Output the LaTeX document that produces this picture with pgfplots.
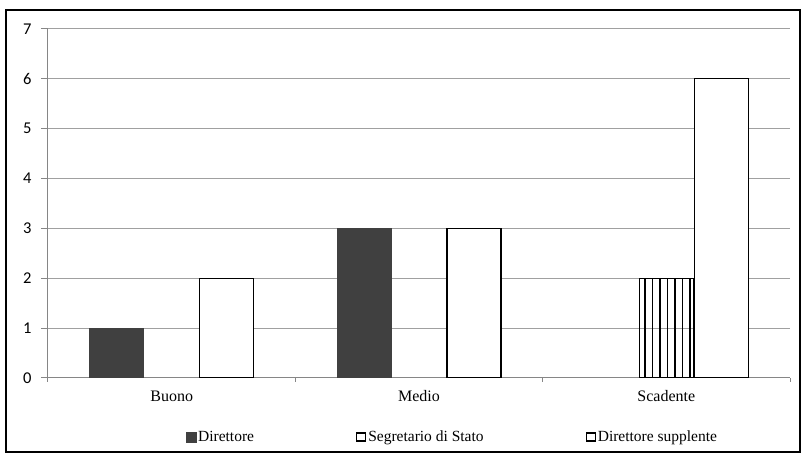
\documentclass[border=0pt]{standalone}
\usepackage{pgfplots}
\pgfplotsset{compat=1.18}
\usepackage{fontspec}
\setmainfont{Liberation Serif}
\newfontfamily\calibri{Carlito}
\usetikzlibrary{patterns.meta}
\definecolor{dgray}{HTML}{404040}
\definecolor{axgray}{HTML}{868686}
\definecolor{grgray}{HTML}{A0A0A0}
\pgfplotsset{
  sqleg/.style={legend image code/.code={\draw[##1] (0pt,-5pt) rectangle (10pt,5pt);}},
  wsqleg/.style={legend image code/.code={\draw[black,fill=white,line width=1.2pt] (0pt,-4pt) rectangle (9pt,4pt);}},
}
\begin{document}
\begin{tikzpicture}
\begin{axis}[
  scale only axis, width=742pt, height=349pt,
  xmin=-0.5, xmax=2.5, ymin=0, ymax=7,
  axis x line=bottom, axis y line=left,
  axis line style={axgray, line width=1pt, -},
  ytick={0,...,7}, ymajorgrids, grid style={grgray, line width=1pt},
  xtick={0,1,2}, xticklabels={Buono,Medio,Scadente},
  major x tick style={draw=none},
  minor xtick={-0.5,0.5,1.5,2.5},
  tick align=outside, major tick length=7pt, minor tick length=4pt,
  tick style={axgray, line width=1pt},
  /pgf/number format/assume math mode=true,
  yticklabel style={font=\calibri\fontsize{16.5}{19}\selectfont, xshift=-6pt},
  xticklabel style={font=\fontsize{16}{19}\selectfont, yshift=-2pt},
  ybar=1pt, bar width=54pt,
  legend columns=3,
  legend style={draw=none, fill=none, at={(0.545,-0.169)}, anchor=center,
    font=\fontsize{15.5}{18}\selectfont,
    /tikz/every even column/.append style={column sep=100pt},
    inner sep=0pt},
]
\addplot[fill=dgray, draw=dgray, sqleg] coordinates {(0,1) (1,3)};
\addlegendentry{Direttore}
\addplot[draw=black, line width=1.2pt, pattern={Lines[angle=90,distance=7.5pt,line width=1.9pt]}, pattern color=black, wsqleg] coordinates {(2,2)};
\addlegendentry{Segretario di Stato}
\addplot[fill=white, draw=black, line width=1.2pt, wsqleg] coordinates {(0,2) (1,3) (2,6)};
\addlegendentry{Direttore supplente}
\end{axis}
\draw[line width=2pt] ([shift={(-42pt,-74pt)}]current axis.south west) rectangle ([shift={(10pt,19pt)}]current axis.north east);
\pgfresetboundingbox
\path ([shift={(-48pt,-78pt)}]current axis.south west) rectangle ([shift={(13pt,29pt)}]current axis.north east);
\end{tikzpicture}
\end{document}
